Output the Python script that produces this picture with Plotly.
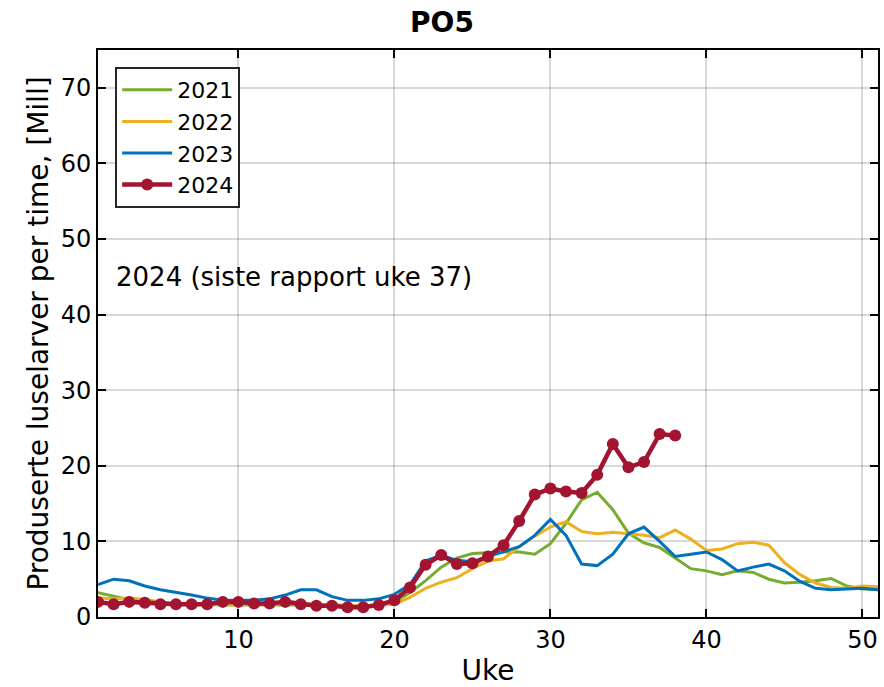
import plotly.graph_objects as go

weeks = list(range(1, 52))

y2021 = [3.2, 2.7, 2.3, 2.0, 1.8, 1.7, 1.7, 1.6, 1.6, 1.6, 1.6, 1.7, 1.7, 1.7, 1.6, 1.6, 1.5, 1.5, 1.6, 2.0,
         3.2, 4.8, 6.6, 7.8, 8.4, 8.5, 8.6, 8.6, 8.3, 9.7, 12.4, 15.5, 16.5, 14.2, 11.1, 9.8, 9.2, 7.8, 6.4, 6.1,
         5.6, 6.1, 5.9, 5.0, 4.5, 4.6, 4.8, 5.1, 4.1, 3.7, 3.6]
y2022 = [2.5, 2.4, 2.5, 2.3, 2.0, 1.8, 1.8, 1.7, 1.7, 1.7, 1.7, 1.7, 1.8, 1.8, 1.7, 1.6, 1.5, 1.5, 1.6, 1.7,
         2.6, 3.8, 4.6, 5.2, 6.4, 7.4, 7.7, 9.3, 10.7, 11.9, 12.6, 11.3, 11.0, 11.2, 11.0, 10.8, 10.5, 11.5, 10.3, 8.8,
         9.0, 9.7, 9.9, 9.5, 7.2, 5.6, 4.5, 3.9, 3.8, 4.1, 4.0]
y2023 = [4.3, 5.0, 4.8, 4.1, 3.6, 3.2, 2.9, 2.5, 2.2, 2.2, 2.2, 2.4, 2.9, 3.6, 3.6, 2.7, 2.2, 2.2, 2.4, 3.0,
         4.3, 7.4, 8.2, 7.5, 7.3, 8.0, 8.7, 9.3, 10.8, 12.9, 10.8, 7.0, 6.8, 8.3, 11.0, 11.9, 10.0, 8.0, 8.3, 8.6,
         7.6, 6.1, 6.6, 7.0, 6.1, 4.7, 3.8, 3.6, 3.7, 3.8, 3.6]
weeks2024 = list(range(1, 39))
y2024 = [2.0, 1.7, 2.0, 1.9, 1.7, 1.7, 1.7, 1.7, 2.0, 2.0, 1.8, 1.8, 2.0, 1.7, 1.5, 1.5, 1.3, 1.3, 1.6, 2.2,
         3.9, 6.9, 8.2, 7.0, 7.1, 8.0, 9.5, 12.7, 16.2, 17.0, 16.6, 16.4, 18.8, 22.9, 19.8, 20.5, 24.2, 24.0]

series = [
    ("2021", weeks, y2021, "#77AC30"),
    ("2022", weeks, y2022, "#EDB120"),
    ("2023", weeks, y2023, "#0072BD"),
]

fig = go.Figure()
for name, xs, ys, col in series:
    fig.add_trace(go.Scatter(x=xs, y=ys, name=name, mode="lines",
                             line=dict(color=col, width=3)))
fig.add_trace(go.Scatter(x=weeks2024, y=y2024, name="2024", mode="lines+markers",
                         line=dict(color="#A2142F", width=4.5),
                         marker=dict(color="#A2142F", size=12)))

font = "DejaVu Sans, sans-serif"
axis_common = dict(
    showline=True, linecolor="black", linewidth=2, mirror="ticks",
    ticks="inside", ticklen=8, tickwidth=2, tickcolor="black",
    showgrid=True, gridcolor="rgba(0,0,0,0.15)", gridwidth=2,
    zeroline=False, tickfont=dict(family=font, size=24, color="black"),
)

fig.update_layout(
    width=884, height=687,
    margin=dict(l=98, r=4, t=50, b=70),
    paper_bgcolor="white", plot_bgcolor="white",
    title=dict(text="<b>PO5</b>", x=0.5, xanchor="center", y=0.968, yanchor="middle",
               font=dict(family=font, size=28, color="black")),
    xaxis=dict(range=[1, 51], tickvals=[10, 20, 30, 40, 50],
               title=dict(text="Uke", font=dict(family=font, size=28, color="black"), standoff=10),
               **axis_common),
    yaxis=dict(range=[0, 75], tickvals=[0, 10, 20, 30, 40, 50, 60, 70],
               title=dict(text="Produserte luselarver per time, [Mill]",
                          font=dict(family=font, size=28, color="black"), standoff=4),
               **axis_common),
    legend=dict(x=0.022, y=0.97, xanchor="left", yanchor="top",
                bgcolor="white", bordercolor="#262626", borderwidth=2,
                font=dict(family=font, size=22, color="black"),
                tracegroupgap=0, itemwidth=50),
    showlegend=True,
)

fig.add_annotation(x=2.0, y=45, text="2024 (siste rapport uke 37)", showarrow=False,
                   xanchor="left", yanchor="middle",
                   font=dict(family=font, size=26, color="black"))

fig.write_html("out.html")
